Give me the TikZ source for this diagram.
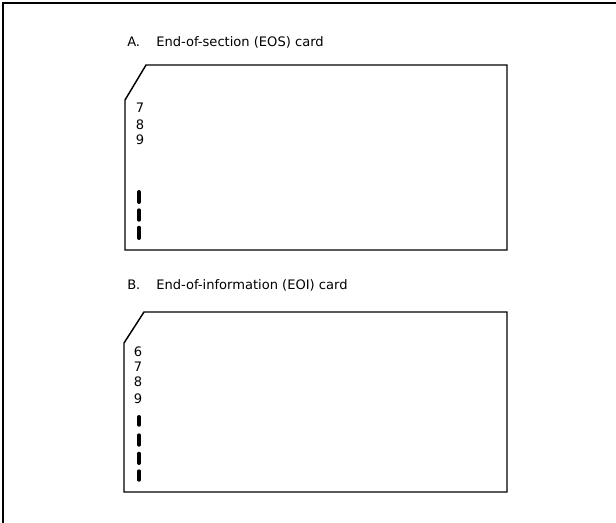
\documentclass[tikz,border=0pt]{standalone}
\usepackage{fontspec}
\setmainfont{DejaVu Sans}
\usepackage{tikz}
\usetikzlibrary{positioning}

\begin{document}
\begin{tikzpicture}[
      x=0.75pt, y=-0.75pt,
      every node/.style={inner sep=0pt, font=\fontsize{9.8}{11}\selectfont},
      card/.style={line width=1.1pt, line join=miter},
      punch/.style={line width=3pt, line cap=round}
    ]
      \useasboundingbox (0,0) rectangle (616,522);
      \clip (0,0) rectangle (616,522);
      % outer frame
      \draw[line width=0.8pt] (3,530) -- (3,3) -- (630,3);

      % A: end-of-section card
      \node[anchor=base west] (labelA) at (127,46.5) {A.};
      \node[anchor=base west] (titleA) at (156,46.5) {End-of-section (EOS) card};
      \draw[card] (146,65) -- (507,65) -- (507,250) -- (125,250) -- (125,100) -- cycle;
      \node[anchor=base] (rowA7) at (140,112.8) {7};
      \node[anchor=base] (rowA8) at (140,129.3) {8};
      \node[anchor=base] (rowA9) at (140,144.6) {9};
      \draw[punch] (139,192) -- (139,202);
      \draw[punch] (139,210.3) -- (139,219.7);
      \draw[punch] (139,227.7) -- (139,238);

      % B: end-of-information card
      \node[anchor=base west] (labelB) at (127,289.5) {B.};
      \node[anchor=base west] (titleB) at (156,289.5) {End-of-information (EOI) card};
      \draw[card] (144,312) -- (507,312) -- (507,492) -- (124,492) -- (124,343) -- cycle;
      \node[anchor=base] (rowB6) at (138,356.3) {6};
      \node[anchor=base] (rowB7) at (138,371.3) {7};
      \node[anchor=base] (rowB8) at (138,386.9) {8};
      \node[anchor=base] (rowB9) at (138,403.6) {9};
      \draw[punch] (139,417) -- (139,424.7);
      \draw[punch] (139,435.3) -- (139,444.7);
      \draw[punch] (139,453.7) -- (139,463);
      \draw[punch] (139,471.3) -- (139,479.7);
    \end{tikzpicture}
\end{document}
